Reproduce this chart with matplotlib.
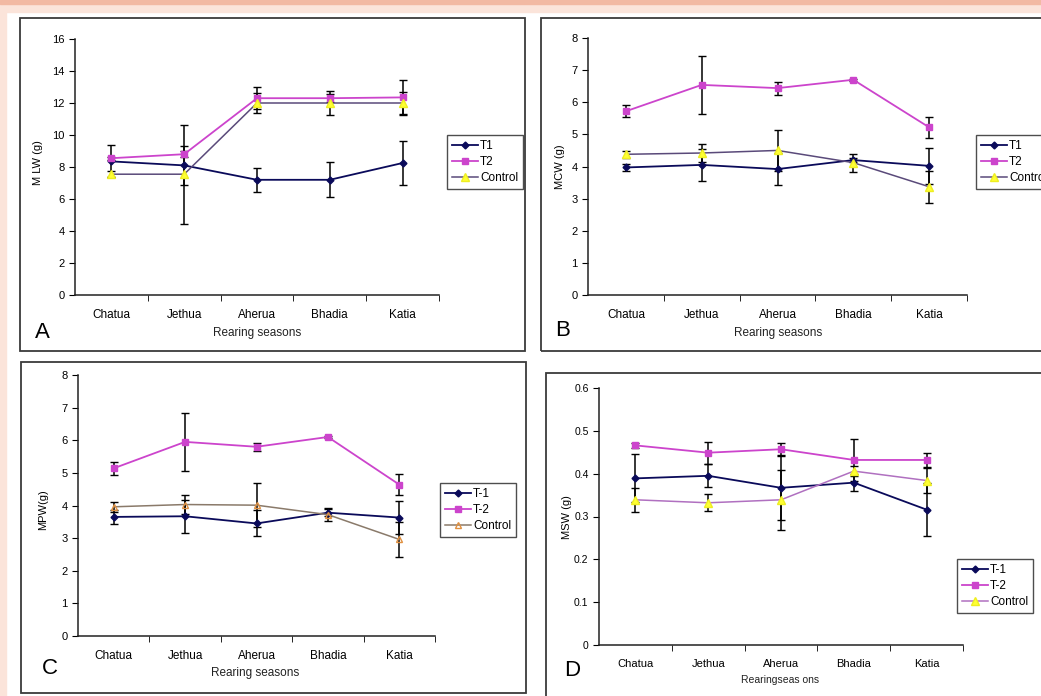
import matplotlib
matplotlib.use("Agg")
import matplotlib.pyplot as plt
from matplotlib.patches import Rectangle

plt.rcParams['font.family'] = ['Liberation Sans', 'DejaVu Sans']

W, H = 1041, 696

seasons = ['Chatua', 'Jethua', 'Aherua', 'Bhadia', 'Katia']

# panel A - MLW
a_t1 = [8.35, 8.1, 7.2, 7.2, 8.25]
a_t1_err = [1.0, 1.2, 0.75, 1.1, 1.4]
a_t2 = [8.55, 8.8, 12.3, 12.3, 12.35]
a_t2_err = [0.1, 0.2, 0.7, 0.25, 1.1]
a_ctrl = [7.55, 7.55, 12.0, 12.0, 12.0]
a_ctrl_err = [0.2, 3.1, 0.65, 0.75, 0.7]

# panel B - MCW
b_t1 = [3.97, 4.05, 3.92, 4.2, 4.02]
b_t1_err = [0.12, 0.5, 0.5, 0.05, 0.55]
b_t2 = [5.72, 6.54, 6.44, 6.7, 5.22]
b_t2_err = [0.18, 0.9, 0.2, 0.03, 0.32]
b_ctrl = [4.38, 4.42, 4.5, 4.12, 3.37]
b_ctrl_err = [0.1, 0.28, 0.65, 0.28, 0.5]

# panel C - MPW
c_t1 = [3.65, 3.67, 3.45, 3.78, 3.63]
c_t1_err = [0.22, 0.5, 0.4, 0.1, 0.5]
c_t2 = [5.14, 5.95, 5.8, 6.1, 4.64]
c_t2_err = [0.19, 0.88, 0.13, 0.03, 0.33]
c_ctrl = [3.96, 4.03, 4.01, 3.72, 2.96]
c_ctrl_err = [0.15, 0.3, 0.67, 0.2, 0.54]

# panel D - MSW
d_t1 = [0.389, 0.395, 0.367, 0.379, 0.316]
d_t1_err = [0.056, 0.027, 0.075, 0.02, 0.062]
d_t2 = [0.466, 0.449, 0.457, 0.432, 0.432]
d_t2_err = [0.005, 0.026, 0.014, 0.048, 0.016]
d_ctrl = [0.339, 0.332, 0.339, 0.406, 0.384]
d_ctrl_err = [0.028, 0.02, 0.07, 0.012, 0.03]


def px(x, y):
    # pixel (from top-left) -> figure fraction
    return x / W, 1 - y / H


def axes_px(fig, x0, y0, x1, y1):
    return fig.add_axes([x0 / W, 1 - y1 / H, (x1 - x0) / W, (y1 - y0) / H])


def box(fig, x0, y0, x1, y1):
    l, t = px(x0, y0)
    r, b = px(x1, y1)
    fig.patches.append(Rectangle((l, b), r - l, t - b, transform=fig.transFigure,
                                 fill=False, edgecolor='#3a3a3a', linewidth=1.3))


def draw_panel(ax, t1, t1e, t2, t2e, ct, cte, ymax, ystep, ctrl_style, names):
    x = list(range(len(seasons)))
    e1 = ax.errorbar(x, t1, yerr=t1e, color='#0a0a5a', lw=1.3, marker='D', ms=3.5,
                     ecolor='black', elinewidth=1.1, capsize=3, zorder=3)
    e2 = ax.errorbar(x, t2, yerr=t2e, color='#cc44cc', lw=1.3, marker='s', ms=5,
                     ecolor='black', elinewidth=1.1, capsize=3, zorder=3)
    e3 = ax.errorbar(x, ct, yerr=cte, ecolor='black', elinewidth=1.1, capsize=3,
                     zorder=3, **ctrl_style)
    ax.set_xlim(-0.5, 4.5)
    ax.set_ylim(0, ymax)
    yt = [i * ystep for i in range(int(round(ymax / ystep)) + 1)]
    ax.set_yticks(yt)
    ax.set_xticks(x)
    ax.set_xticklabels(seasons)
    ax.set_xticks([0.5, 1.5, 2.5, 3.5, 4.5], minor=True)
    ax.tick_params(axis='x', which='major', length=0, pad=10, labelsize=8.5)
    ax.tick_params(axis='x', which='minor', length=4, direction='out')
    ax.tick_params(axis='y', length=4, direction='out', labelsize=8)
    for s in ['top', 'right']:
        ax.spines[s].set_visible(False)
    for s in ['left', 'bottom']:
        ax.spines[s].set_color('#222222')
        ax.spines[s].set_linewidth(1.1)
    ax.set_facecolor('none')
    # only the line part goes in the legend
    return [e1.lines[0], e2.lines[0], e3.lines[0]], names


fig = plt.figure(figsize=(W / 100, H / 100), dpi=100)
fig.patch.set_facecolor('white')

# pink frame at top and left
fig.patches.append(Rectangle(px(0, 12), 1, 12 / H, transform=fig.transFigure,
                             color='#fbe4da', zorder=0))
fig.patches.append(Rectangle(px(0, H), 6 / W, 1, transform=fig.transFigure,
                             color='#fbe4da', zorder=0))
fig.patches.append(Rectangle(px(0, 4), 1, 4 / H, transform=fig.transFigure,
                             color='#f2b9a3', zorder=0))

box(fig, 20, 18, 525, 351)
box(fig, 541, 18, 1047, 351)
box(fig, 21, 362, 526, 693)
box(fig, 546, 373, 1047, 702)

dark_ctrl = dict(color='#5a4a7a', lw=1.1, marker='^', ms=6, mfc='#ffff33', mec='#eeee22')

axA = axes_px(fig, 75, 39, 439, 295)
hA = draw_panel(axA, a_t1, a_t1_err, a_t2, a_t2_err, a_ctrl, a_ctrl_err, 16, 2,
                dark_ctrl, ['T1', 'T2', 'Control'])

axB = axes_px(fig, 588, 38, 967, 295)
hB = draw_panel(axB, b_t1, b_t1_err, b_t2, b_t2_err, b_ctrl, b_ctrl_err, 8, 1,
                dark_ctrl, ['T1', 'T2', 'Control'])

axC = axes_px(fig, 78, 375, 435, 636)
hC = draw_panel(axC, c_t1, c_t1_err, c_t2, c_t2_err, c_ctrl, c_ctrl_err, 8, 1,
                dict(color='#8a7a6a', lw=1.1, marker='^', ms=5, mfc='none', mec='#e09040'),
                ['T-1', 'T-2', 'Control'])

axD = axes_px(fig, 599, 388, 963, 645)
hD = draw_panel(axD, d_t1, d_t1_err, d_t2, d_t2_err, d_ctrl, d_ctrl_err, 0.6, 0.1,
                dict(color='#b070c0', lw=1.1, marker='^', ms=6, mfc='#ffff33', mec='#eeee22'),
                ['T-1', 'T-2', 'Control'])
axD.set_yticklabels(['0', '0.1', '0.2', '0.3', '0.4', '0.5', '0.6'])
axD.tick_params(axis='x', which='major', labelsize=8)
axD.tick_params(axis='y', labelsize=7.5)

# legends
leg_kw = dict(loc='upper left', fontsize=8.5, frameon=True, fancybox=False,
              handlelength=2.2, handletextpad=0.2, borderpad=0.4, labelspacing=0.35,
              borderaxespad=0)
for ax, (hs, names), (lx, ly) in [(axA, hA, (447, 135)), (axB, hB, (976, 135)),
                                  (axC, hC, (440, 483)), (axD, hD, (957, 559))]:
    leg = ax.legend(hs, names, bbox_to_anchor=px(lx, ly), bbox_transform=fig.transFigure, **leg_kw)
    leg.get_frame().set_edgecolor('#222222')
    leg.get_frame().set_linewidth(1.0)
    leg.get_frame().set_boxstyle('square', pad=0)

# y labels
for txt, (x, y) in [('M LW (g)', (38, 163)), ('MCW (g)', (560, 167)),
                    ('MPW(g)', (43, 510)), ('MSW (g)', (567, 517))]:
    fig.text(*px(x, y), txt, rotation=90, ha='center', va='center', fontsize=8)

# x labels
for txt, (x, y), fs in [('Rearing seasons', (257, 333), 8.5), ('Rearing seasons', (778, 333), 8.5),
                        ('Rearing seasons', (255, 673), 8.5), ('Rearingseas ons', (780, 680), 7.5)]:
    fig.text(*px(x, y), txt, ha='center', va='center', fontsize=fs, color='#222222')

# panel letters
for txt, (x, y) in [('A', (42, 332)), ('B', (563, 330)), ('C', (50, 668)), ('D', (572, 670))]:
    fig.text(*px(x, y), txt, ha='center', va='center', fontsize=16)

fig.savefig('out.png', dpi=100)
